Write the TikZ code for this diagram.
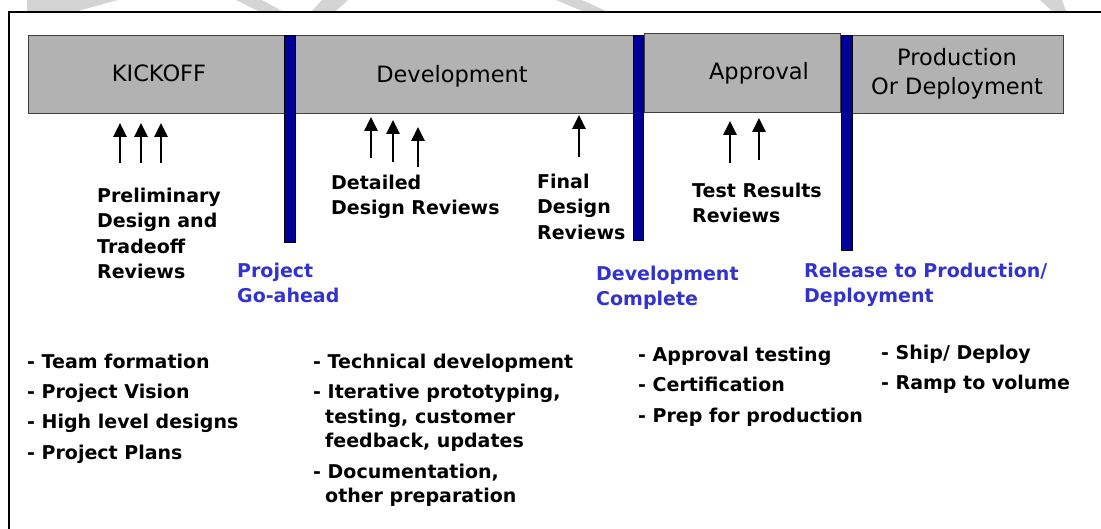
\documentclass[tikz,border=0pt]{standalone}
\usepackage{fontspec}
\setmainfont{DejaVu Sans}
\usetikzlibrary{arrows.meta}
\definecolor{boxgray}{RGB}{178,178,178}
\definecolor{barblue}{RGB}{0,0,150}
\definecolor{msblue}{RGB}{50,50,205}
\definecolor{wmgray}{RGB}{212,212,212}
\begin{document}
\begin{tikzpicture}[x=1pt,y=-1pt,
  phase/.style={draw=black!75, line width=1pt, fill=boxgray, inner sep=0pt, anchor=north west},
  gate/.style={draw=black, line width=0.8pt, fill=barblue, inner sep=0pt, anchor=north west},
  rev/.style={line width=2.8pt, -{Triangle[width=13pt,length=14pt]}},
  note/.style={font=\bfseries\fontsize{19}{25.5}\selectfont, align=left, inner sep=0pt, anchor=north west},
  ms/.style={note, text=msblue},
  plabel/.style={font=\fontsize{22.5}{29}\selectfont, inner sep=0pt, anchor=base},
  frame/.style={line width=2.5pt, draw=black},
  wmark/.style={fill=wmgray, draw=none}
]
\useasboundingbox (0,0) rectangle (1101,529);
% faint watermark remnants along the top edge
\fill[wmark] (27,0) -- (118,0) -- (78,11) -- (27,11) -- cycle;
\fill[wmark] (236,0) -- (262,0) -- (282,11) -- (258,11) -- cycle;
\fill[wmark] (312,11) -- (322,0) -- (348,0) -- (336,11) -- cycle;
\fill[wmark] (556,0) -- (582,0) -- (606,11) -- (582,11) -- cycle;
\fill[wmark] (1040,0) -- (1062,0) -- (1066,11) -- (1052,11) -- cycle;
% frame
\coordinate (f1) at (9,529);
\coordinate (f2) at (9,12);
\coordinate (f3) at (1101,12);
\draw[frame] (f1) -- (f2) -- (f3);

% phase boxes
\node[phase, minimum width=257pt, minimum height=78pt] (kick) at (28,35) {};
\node[phase, minimum width=338pt, minimum height=78pt] (dev) at (295,35) {};
\node[phase, minimum width=196pt, minimum height=79pt] (appr) at (644,33) {};
\node[phase, minimum width=211pt, minimum height=78pt] (prod) at (852,35) {};

% gates
\node[gate, minimum width=11pt, minimum height=207pt] (g1) at (284,35) {};
\node[gate, minimum width=10pt, minimum height=205pt] (g2) at (633,35) {};
\node[gate, minimum width=11pt, minimum height=215pt] (g3) at (841,35) {};

% phase labels
\node[plabel] (tkick) at (159,82) {KICKOFF};
\node[plabel] (tdev) at (452,83) {Development};
\node[plabel] (tappr) at (759,80) {Approval};
\node[plabel, align=center, anchor=north] (tprod) at (957,48) {Production\\Or Deployment};

% review arrows
\coordinate (a1s) at (120,163); \coordinate (a1e) at (120,123);
\coordinate (a2s) at (141,163); \coordinate (a2e) at (141,123);
\coordinate (a3s) at (161,163); \coordinate (a3e) at (161,123);
\coordinate (b1s) at (371,158); \coordinate (b1e) at (371,117);
\coordinate (b2s) at (393,162); \coordinate (b2e) at (393,120);
\coordinate (b3s) at (418,167); \coordinate (b3e) at (418,127);
\coordinate (c1s) at (579,157); \coordinate (c1e) at (579,115);
\coordinate (d1s) at (730,163); \coordinate (d1e) at (730,121);
\coordinate (d2s) at (759,160); \coordinate (d2e) at (759,118);
\foreach \p in {a1,a2,a3,b1,b2,b3,c1,d1,d2}{\draw[rev] (\p s) -- (\p e);}

% review labels
\node[note] (prelim) at (97,187.6) {Preliminary\\Design and\\Tradeoff\\Reviews};
\node[note] (detail) at (331,174.6) {Detailed\\Design Reviews};
\node[note] (final) at (537,173.6) {Final\\Design\\Reviews};
\node[note] (test) at (692,182.6) {Test Results\\Reviews};

% milestones
\node[ms] (goahead) at (237,262.6) {Project\\Go-ahead};
\node[ms] (devdone) at (596,265.6) {Development\\Complete};
\node[ms] (release) at (804,262.6) {Release to Production/\\Deployment};

% activity lists
\node[note, font=\bfseries\fontsize{19}{30.3}\selectfont] (l1) at (27,353.6)
  {- Team formation\\- Project Vision\\- High level designs\\- Project Plans};
\node[note, font=\bfseries\fontsize{19}{24.5}\selectfont] (l2) at (313,353.6)
  {- Technical development\\[6pt]- Iterative prototyping,\\\hspace*{12pt}testing, customer\\\hspace*{12pt}feedback, updates\\[6pt]- Documentation,\\\hspace*{12pt}other preparation};
\node[note, font=\bfseries\fontsize{19}{30.5}\selectfont] (l3) at (638,346.6)
  {- Approval testing\\- Certification\\- Prep for production};
\node[note, font=\bfseries\fontsize{19}{30}\selectfont] (l4) at (881,344.6)
  {- Ship/ Deploy\\- Ramp to volume};
\end{tikzpicture}
\end{document}
